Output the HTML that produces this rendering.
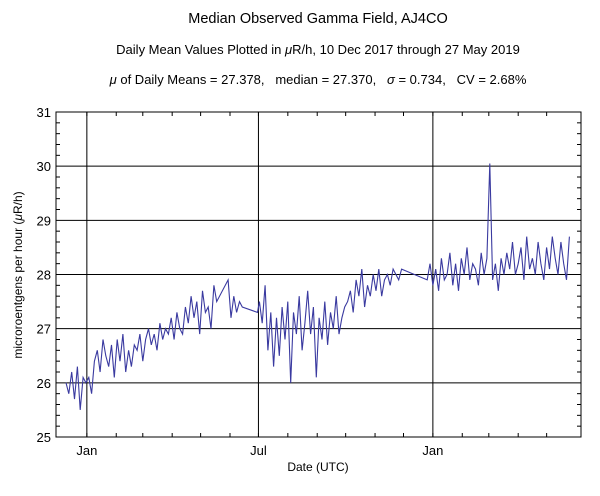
<!DOCTYPE html>
<html><head><meta charset="utf-8"><style>
body{margin:0;background:#fff;}
svg{display:block;font-family:"Liberation Sans",sans-serif;}
</style></head><body>
<svg id="c" width="600" height="496">
<text x="318" y="23" font-size="14.5" text-anchor="middle">Median Observed Gamma Field, AJ4CO</text>
<text x="318" y="54" font-size="13" text-anchor="middle">Daily Mean Values Plotted in <tspan font-style="italic">μ</tspan>R/h, 10 Dec 2017 through 27 May 2019</text>
<text x="318" y="84" font-size="13" text-anchor="middle" style="white-space:pre"><tspan font-style="italic">μ</tspan> of Daily Means = 27.378,   median = 27.370,   <tspan font-style="italic">σ</tspan> = 0.734,   CV = 2.68%</text>
<text transform="translate(22,275) rotate(-90)" font-size="12" text-anchor="middle">microroentgens per hour (<tspan font-style="italic">μ</tspan>R/h)</text>
<text x="318" y="471" font-size="12" text-anchor="middle">Date (UTC)</text>
<g id="grid"></g><g id="ticks"></g><g id="series"></g>
<rect x="56" y="112" width="525" height="325" fill="none" stroke="#000" stroke-width="1"/>
</svg>
<script>
const yTicks=[25,26,27,28,29,30,31];
const xTickDays=[22,203,387];
const xTickLabels=["Jan","Jul","Jan"];
const monthDays=[22,53,81,112,142,173,203,234,265,295,326,356,387,418,446,477,507];
const days=[0,3,6,9,12,15,18,21,24,27,30,33,36,39,42,45,48,51,54,57,60,63,66,69,72,75,78,81,84,87,90,93,96,99,102,105,108,111,114,117,120,123,126,129,132,135,138,141,144,147,150,153,156,159,171,174,177,180,183,186,202,204,207,210,213,216,219,222,225,228,231,234,237,240,243,246,249,252,255,258,261,264,267,270,273,276,279,282,285,288,291,294,297,300,303,306,309,312,315,318,321,324,327,330,333,336,339,342,345,348,351,354,381,384,387,390,393,396,399,402,405,408,411,414,417,420,423,426,429,432,435,438,441,444,447,450,453,456,459,462,465,468,471,474,477,480,483,486,489,492,495,498,501,504,507,510,513,516,519,522,525,528,531];
const values=[26.0,25.8,26.2,25.7,26.3,25.5,26.1,26.0,26.1,25.8,26.4,26.6,26.2,26.8,26.5,26.3,26.7,26.1,26.8,26.4,26.9,26.2,26.6,26.3,26.7,26.6,26.9,26.4,26.8,27.0,26.7,26.9,26.6,27.1,26.8,27.0,26.9,27.2,26.8,27.3,27.0,26.9,27.4,27.1,27.6,27.2,27.5,26.9,27.7,27.3,27.4,27.0,27.8,27.5,27.9,27.2,27.6,27.3,27.5,27.4,27.3,27.5,27.1,27.8,26.6,27.3,26.3,27.2,26.5,27.4,26.8,27.5,26.0,27.3,26.9,27.6,26.6,27.1,27.7,26.9,27.4,26.1,27.2,26.8,27.5,26.7,27.3,27.0,27.6,26.9,27.2,27.4,27.5,27.7,27.3,27.9,27.6,28.1,27.4,27.8,27.6,28.0,27.7,28.1,27.6,27.9,28.0,27.8,28.1,28.0,27.9,28.1,27.9,28.2,27.8,28.1,27.7,28.3,27.9,28.0,28.4,27.8,28.2,27.7,28.3,28.0,28.5,27.9,28.2,28.1,27.8,28.4,28.0,28.3,30.05,27.9,28.2,27.7,28.3,28.0,28.4,28.1,28.6,28.0,28.2,28.5,27.9,28.7,28.1,28.3,28.0,28.6,28.2,27.9,28.5,28.1,28.7,28.3,28.0,28.6,28.2,27.9,28.7];
const NS="http://www.w3.org/2000/svg";
const X0=56,X1=581,Y0=437,Y1=112;
const xs=d=>66+d*0.948;
const ys=v=>Y0-(v-25)*(Y0-Y1)/6;
function mk(t,a,p){const e=document.createElementNS(NS,t);for(const k in a)e.setAttribute(k,a[k]);p.appendChild(e);return e;}
const grid=document.getElementById('grid'),ticks=document.getElementById('ticks'),ser=document.getElementById('series');
yTicks.forEach(v=>{
 const y=ys(v);
 const l=mk('line',{x1:X0,x2:X1,y1:y,y2:y,stroke:'#000','stroke-width':1},grid);
 
 
 const t=mk('text',{x:X0-5,y:y+5,'font-size':13,'text-anchor':'end'},ticks);
 t.textContent=v;
 
 
 if(v<31){for(let k=1;k<5;k++){const yy=y-k*(Y0-Y1)/30;
  mk('line',{x1:X0,x2:X0+4,y1:yy,y2:yy,stroke:'#000'},ticks);
  mk('line',{x1:X1,x2:X1-4,y1:yy,y2:yy,stroke:'#000'},ticks);}}
});
xTickDays.forEach((d,i)=>{
 const x=xs(d);
 const l=mk('line',{x1:x,x2:x,y1:Y1,y2:Y0,stroke:'#000','stroke-width':1},grid);
 
 
 const t=mk('text',{x:x,y:455,'font-size':13,'text-anchor':'middle'},ticks);
 t.textContent=xTickLabels[i];
 
 
});
monthDays.forEach(d=>{const x=xs(d);
 mk('line',{x1:x,x2:x,y1:Y0,y2:Y0-4,stroke:'#000'},ticks);
 mk('line',{x1:x,x2:x,y1:Y1,y2:Y1+4,stroke:'#000'},ticks);});
const pts=days.map((d,i)=>xs(d).toFixed(1)+','+ys(values[i]).toFixed(1)).join(' ');
const pl=mk('polyline',{points:pts,fill:'none',stroke:'#3a3aa0','stroke-width':1.1},ser);


</script>
</body></html>
